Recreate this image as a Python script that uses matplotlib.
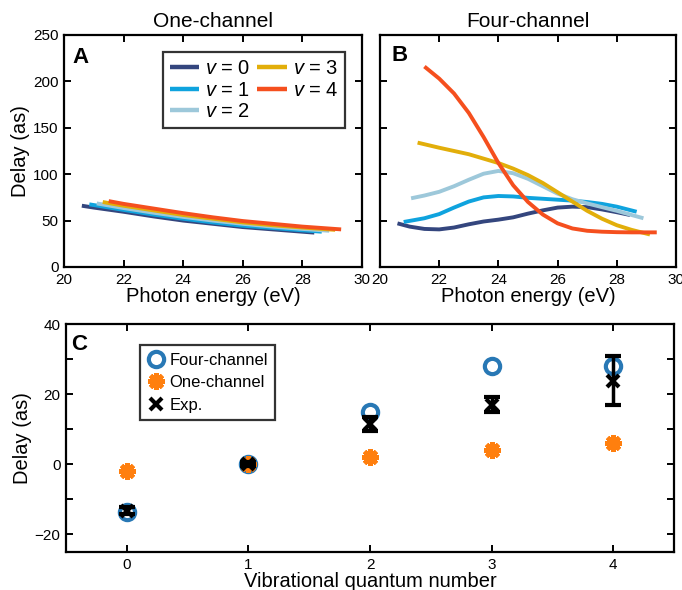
import matplotlib
matplotlib.use("Agg")
import matplotlib.pyplot as plt
from matplotlib.ticker import MultipleLocator, FuncFormatter

plt.rcParams['font.family'] = ['Liberation Sans', 'DejaVu Sans']
plt.rcParams['mathtext.fontset'] = 'custom'
plt.rcParams['mathtext.it'] = 'Liberation Sans:italic'
plt.rcParams['mathtext.rm'] = 'Liberation Sans'

# ---------------- data ----------------
colors = ['#34467E', '#0FA3DE', '#9DC8DA', '#E2AE0A', '#F54F1E']
labels = ['$v$ = 0', '$v$ = 1', '$v$ = 2', '$v$ = 3', '$v$ = 4']

# Panel A: one-channel
a_E0 = [20.6, 21, 22, 23, 24, 25, 26, 27, 28, 28.4]
a_D0 = [66, 64, 59.5, 54.5, 50, 46.5, 43, 40.5, 38, 37]
a_E1 = [20.85, 22, 23, 24, 25, 26, 27, 28, 28.65]
a_D1 = [67.5, 61.5, 56.5, 52, 48, 44.5, 42, 39.5, 38]
a_E2 = [21.1, 22, 23, 24, 25, 26, 27, 28, 28.9]
a_D2 = [68.5, 63.5, 58.5, 54, 50, 46.5, 43.5, 41, 39]
a_E3 = [21.3, 22, 23, 24, 25, 26, 27, 28, 29.1]
a_D3 = [70, 66, 61, 56, 52, 48, 45, 42.5, 40]
a_E4 = [21.5, 22, 23, 24, 25, 26, 27, 28, 29.3]
a_D4 = [71, 68, 63, 58, 53.5, 49.5, 46.5, 43.5, 40.5]

# Panel B: four-channel
b_E0 = [20.59, 21, 21.5, 22, 22.5, 23, 23.5, 24, 24.5, 25, 25.5, 26, 26.5, 27, 27.5, 28, 28.45]
b_D0 = [47, 43.5, 41, 40.5, 42.5, 46, 49, 51, 53.5, 57.5, 61, 64, 65, 64.5, 62, 59, 56]
b_E1 = [20.8, 21.5, 22, 22.5, 23, 23.5, 24, 24.5, 25, 25.5, 26, 26.5, 27, 27.5, 28, 28.67]
b_D1 = [48.5, 52.5, 57, 64, 70.5, 75, 76.5, 76, 74.5, 73.5, 72.5, 71.5, 70, 68, 65, 59.5]
b_E2 = [21.05, 21.5, 22, 22.5, 23, 23.5, 24, 24.5, 25, 25.5, 26, 26.5, 27, 27.5, 28, 28.5, 28.9]
b_D2 = [74, 77, 81, 87, 94, 100.5, 103.5, 101, 95, 87, 79, 73, 68.5, 64.5, 60.5, 56, 52.5]
b_E3 = [21.27, 22, 23, 24, 24.5, 25, 25.5, 26, 26.5, 27, 27.5, 28, 28.5, 29.12]
b_D3 = [134, 128.5, 121.5, 112, 106, 99, 90.5, 80.5, 70.5, 60.5, 52, 45, 40, 35]
b_E4 = [21.5, 22, 22.5, 23, 23.5, 24, 24.5, 25, 25.5, 26, 26.5, 27, 27.5, 28, 28.5, 29.35]
b_D4 = [216, 203, 187, 166, 140, 112, 88, 70, 56.5, 47, 41.5, 39, 38, 37.5, 37.3, 37.3]

# Panel C
vib = [0, 1, 2, 3, 4]
four_channel = [-13.5, 0, 15, 28, 28]
one_channel = [-2, 0, 2, 4, 6]
exp_delay = [-13.3, 0, 11.5, 17, 23.8]
exp_err = [1.0, 0.6, 2.0, 2.2, 7.0]

a_curves = [(a_E0, a_D0), (a_E1, a_D1), (a_E2, a_D2), (a_E3, a_D3), (a_E4, a_D4)]
b_curves = [(b_E0, b_D0), (b_E1, b_D1), (b_E2, b_D2), (b_E3, b_D3), (b_E4, b_D4)]

# ---------------- figure ----------------
fig = plt.figure(figsize=(6.82, 5.90), dpi=100)
axA = fig.add_axes([0.0938, 0.5475, 0.437, 0.3932])
axB = fig.add_axes([0.5572, 0.5475, 0.434, 0.3932])
axC = fig.add_axes([0.0968, 0.0644, 0.8915, 0.3864])

def style(ax):
    for s in ax.spines.values():
        s.set_linewidth(1.6)
    ax.tick_params(which='both', direction='in', top=True, right=True,
                   width=1.4, labelsize=11, pad=4)
    ax.tick_params(which='major', length=5)
    ax.tick_params(which='minor', length=5)

for ax, curves in ((axA, a_curves), (axB, b_curves)):
    for (E, D), c, lab in zip(curves, colors, labels):
        ax.plot(E, D, color=c, lw=2.8, label=lab, solid_capstyle='butt', solid_joinstyle='round')
    ax.set_xlim(20, 30)
    ax.set_ylim(0, 250)
    ax.xaxis.set_major_locator(MultipleLocator(2))
    ax.yaxis.set_major_locator(MultipleLocator(50))
    ax.set_xlabel('Photon energy (eV)', fontsize=14.5, labelpad=0)
    style(ax)

axA.set_ylabel('Delay (as)', fontsize=14.5, labelpad=2)
axB.tick_params(labelleft=False)
axA.set_title('One-channel', fontsize=15, pad=6)
axB.set_title('Four-channel', fontsize=15, pad=6)
axA.text(0.03, 0.95, 'A', transform=axA.transAxes, fontsize=16, fontweight='bold', va='top', ha='left')
axB.text(0.04, 0.955, 'B', transform=axB.transAxes, fontsize=16, fontweight='bold', va='top', ha='left')

legA = axA.legend(ncol=2, loc='upper right', bbox_to_anchor=(0.944, 0.925), fontsize=14.5,
                  handlelength=1.45, handletextpad=0.3, columnspacing=0.35, labelspacing=0.12,
                  borderpad=0.35, fancybox=False, framealpha=1, edgecolor='#333333', borderaxespad=0)
legA.get_frame().set_linewidth(1.6)
for ln in legA.get_lines():
    ln.set_linewidth(3.2)

# Panel C
axC.errorbar(vib, exp_delay, yerr=exp_err, fmt='none', ecolor='black', elinewidth=2.5,
             capsize=6, capthick=3, zorder=3)
axC.plot(vib, four_channel, 'o', ms=11, mfc='none', mec='#2878B5', mew=3, zorder=2, label='Four-channel')
axC.plot(vib, one_channel, linestyle='none', marker=(8, 2, 0), ms=12, mec='#FF7F0E', mew=3.2,
         zorder=2, label='One-channel')
axC.plot(vib, exp_delay, 'x', ms=8, mec='black', mew=3, zorder=4, label='Exp.')
axC.set_xlim(-0.5, 4.5)
axC.set_ylim(-25, 40)
axC.xaxis.set_major_locator(MultipleLocator(1))
axC.yaxis.set_major_locator(MultipleLocator(20))
axC.yaxis.set_minor_locator(MultipleLocator(10))
axC.yaxis.set_major_formatter(FuncFormatter(lambda v, p: f'{v:.0f}'.replace('-', '\u2212')))
axC.set_xlabel('Vibrational quantum number', fontsize=14.5, labelpad=0)
axC.set_ylabel('Delay (as)', fontsize=14.5, labelpad=2)
style(axC)
axC.tick_params(axis='x', which='minor', top=False, bottom=False)
axC.text(0.008, 0.955, 'C', transform=axC.transAxes, fontsize=16, fontweight='bold', va='top', ha='left')
legC = axC.legend(loc='upper left', bbox_to_anchor=(0.122, 0.908), fontsize=12,
                  handlelength=1.0, handletextpad=0.3, labelspacing=0.45, borderpad=0.45,
                  fancybox=False, framealpha=1, edgecolor='#333333', borderaxespad=0)
legC.get_frame().set_linewidth(1.6)

fig.savefig('out.png', dpi=100)
